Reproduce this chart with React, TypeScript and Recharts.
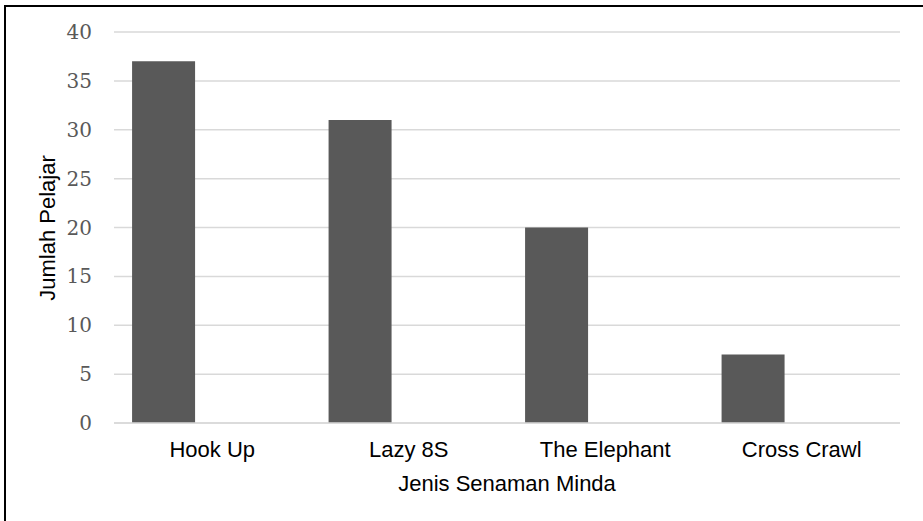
import React from "react"
import { Bar, BarChart, CartesianGrid, XAxis, YAxis } from "recharts"

const categories = ["Hook Up", "Lazy 8S", "The Elephant", "Cross Crawl"]
const jumlahPelajar = [37, 31, 20, 7]
// second (empty) series, keeps the bars to the left of each category
const emptySeries = [null, null, null, null]
const yTicks = [0, 5, 10, 15, 20, 25, 30, 35, 40]

const data = categories.map((name, i) => ({
  name,
  jumlah: jumlahPelajar[i],
  kosong: emptySeries[i],
}))

const BAR = "#595959"
const GRID = "#d9d9d9"
const SANS = "'Liberation Sans', Arial, sans-serif"

function YTitle() {
  return (
    <text
      x={55}
      y={228}
      transform="rotate(-90 55 228)"
      textAnchor="middle"
      fontFamily={SANS}
      fontSize={22}
      fill="#000"
    >
      Jumlah Pelajar
    </text>
  )
}

export default function App() {
  return (
    <div style={{ position: "absolute", left: 0, top: 0, width: 923, height: 521, background: "#fff" }}>
      <BarChart
        width={923}
        height={521}
        data={data}
        margin={{ top: 32, right: 23, left: 0, bottom: 30 }}
        barCategoryGap="9.2%"
        barGap="17.5%"
      >
        <CartesianGrid vertical={false} stroke={GRID} strokeWidth={1.5} />
        <XAxis
          dataKey="name"
          height={68}
          tickLine={false}
          tickSize={0}
          tickMargin={18}
          axisLine={{ stroke: GRID, strokeWidth: 1.5 }}
          tick={{ fontFamily: SANS, fontSize: 22, fill: "#000" }}
          label={{
            value: "Jenis Senaman Minda",
            position: "insideBottom",
            offset: 0,
            fontFamily: SANS,
            fontSize: 22,
            fill: "#000",
          }}
        />
        <YAxis
          width={114}
          domain={[0, 40]}
          ticks={yTicks}
          interval={0}
          axisLine={false}
          tickLine={false}
          tickSize={0}
          tickMargin={22}
          tick={{ fontFamily: "'DejaVu Serif', serif", fontSize: 20, fill: "#595959" }}
          label={<YTitle />}
        />
        <Bar dataKey="jumlah" fill={BAR} isAnimationActive={false} />
        <Bar dataKey="kosong" fill={BAR} isAnimationActive={false} />
      </BarChart>
      <div
        style={{
          position: "absolute",
          left: 4,
          top: 5,
          width: 919,
          height: 516,
          borderLeft: "2px solid #000",
          borderTop: "2px solid #000",
          zIndex: 2,
          pointerEvents: "none",
        }}
      />
    </div>
  )
}
